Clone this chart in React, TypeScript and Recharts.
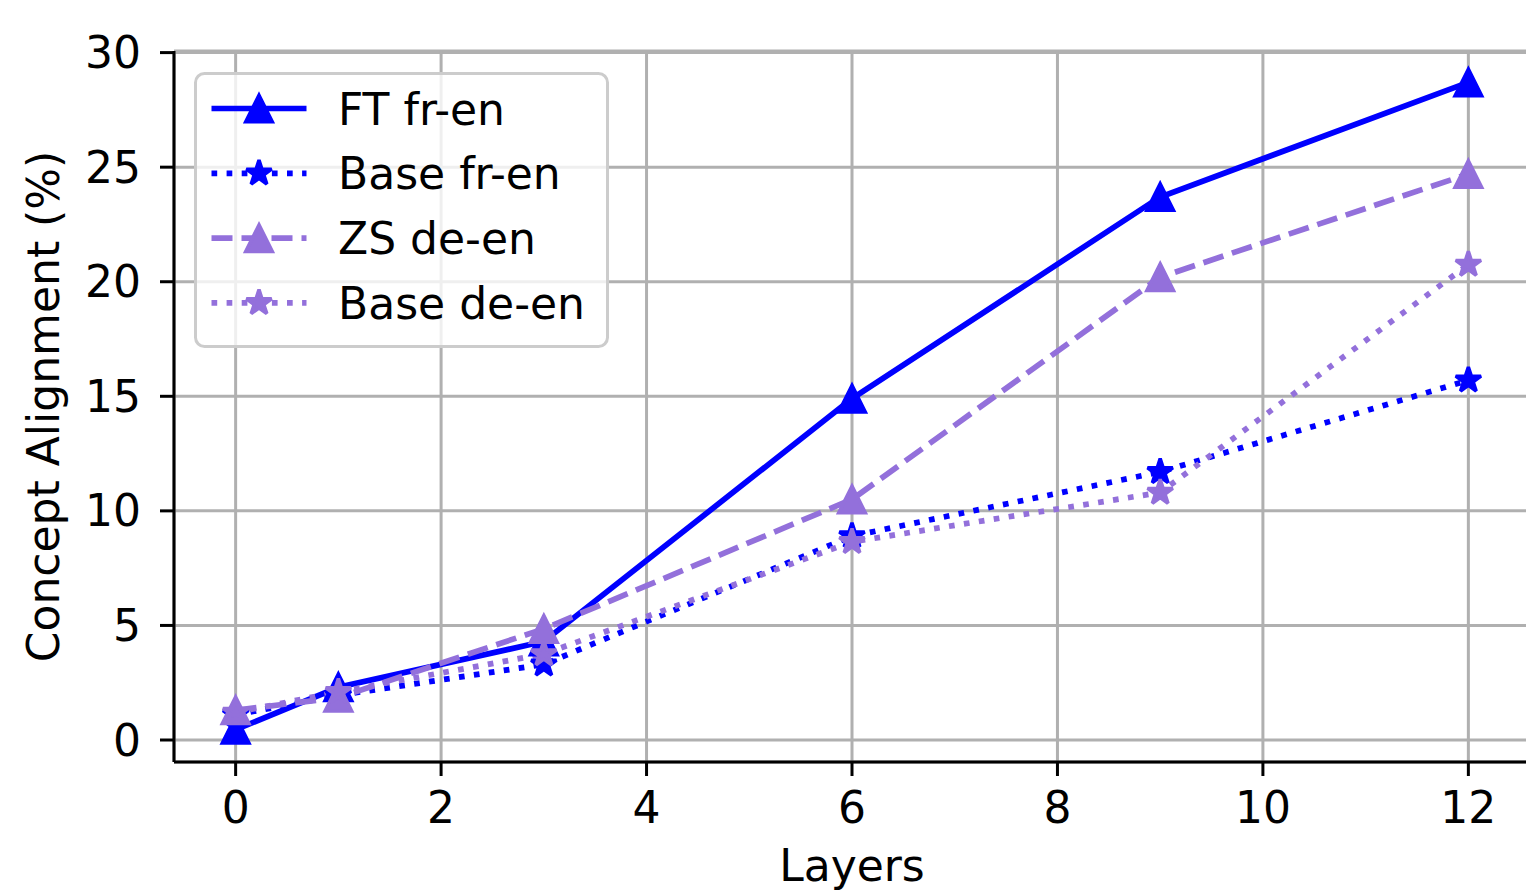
import { LineChart, Line, XAxis, YAxis, CartesianGrid, Legend } from 'recharts';

// values
const LAYERS = [0, 1, 3, 6, 9, 12];
const FT_FR_EN = [0.45, 2.3, 4.3, 14.9, 23.7, 28.7];
const BASE_FR_EN = [1.1, 1.95, 3.3, 8.9, 11.7, 15.7];
const ZS_DE_EN = [1.3, 1.85, 4.85, 10.5, 20.2, 24.7];
const BASE_DE_EN = [1.2, 2.1, 3.75, 8.65, 10.8, 20.75];

const X_TICKS = [0, 2, 4, 6, 8, 10, 12];
const Y_TICKS = [0, 5, 10, 15, 20, 25, 30];
const X_DOMAIN: [number, number] = [-0.6, 12.6];
const Y_DOMAIN: [number, number] = [-0.96, 30.07];

const BLUE = '#0000ff';
const PURPLE = '#9370db';
const FONT = '"DejaVu Sans", Verdana, sans-serif';
const FONT_SIZE = 44;
const LINE_W = 5.7;
const DOTTED = '5.7 9.4';
const DASHED = '21 9';

type Shape = 'triangle' | 'star';

const SERIES: { key: string; name: string; color: string; dash?: string; shape: Shape }[] = [
  { key: 'ftFrEn', name: 'FT fr-en', color: BLUE, shape: 'triangle' },
  { key: 'baseFrEn', name: 'Base fr-en', color: BLUE, dash: DOTTED, shape: 'star' },
  { key: 'zsDeEn', name: 'ZS de-en', color: PURPLE, dash: DASHED, shape: 'triangle' },
  { key: 'baseDeEn', name: 'Base de-en', color: PURPLE, dash: DOTTED, shape: 'star' },
];

const data = LAYERS.map((layer, i) => ({
  layer,
  ftFrEn: FT_FR_EN[i],
  baseFrEn: BASE_FR_EN[i],
  zsDeEn: ZS_DE_EN[i],
  baseDeEn: BASE_DE_EN[i],
}));

function markerPath(shape: Shape, cx: number, cy: number) {
  const s = 13.3;
  if (shape === 'triangle') {
    return `M${cx},${cy - s}L${cx + s},${cy + s}L${cx - s},${cy + s}Z`;
  }
  // 5 point star like matplotlib's '*'
  const inner = s * 0.381966;
  let d = '';
  for (let k = 0; k < 10; k++) {
    const a = (-90 + k * 36) * (Math.PI / 180);
    const r = k % 2 === 0 ? s : inner;
    d += `${k === 0 ? 'M' : 'L'}${cx + r * Math.cos(a)},${cy + r * Math.sin(a)}`;
  }
  return d + 'Z';
}

function Marker({ shape, cx, cy, color }: { shape: Shape; cx?: number; cy?: number; color: string }) {
  if (cx == null || cy == null) return null;
  return (
    <path
      d={markerPath(shape, cx, cy)}
      fill={color}
      stroke={color}
      strokeWidth={3.5}
      strokeLinejoin={shape === 'triangle' ? 'miter' : 'bevel'}
    />
  );
}

function LegendBox() {
  return (
    <svg width={416} height={277} style={{ display: 'block', overflow: 'visible' }}>
      <rect x={1.5} y={1.5} width={412} height={273} rx={9} fill="rgba(255,255,255,0.8)" stroke="#cccccc" strokeWidth={3} />
      {SERIES.map((s, i) => {
        const y = 36.5 + i * 64.8;
        return (
          <g key={s.key}>
            <line x1={17.5} x2={112.5} y1={y} y2={y} stroke={s.color} strokeWidth={LINE_W} strokeDasharray={s.dash} />
            <Marker shape={s.shape} cx={65} cy={y} color={s.color} />
            <text x={144} y={y + 16} fontSize={FONT_SIZE} fontFamily={FONT} fill="#000">
              {s.name}
            </text>
          </g>
        );
      })}
    </svg>
  );
}

function XTitle(props: any) {
  const vb = props.viewBox;
  return (
    <text x={vb.x + vb.width / 2} y={vb.y + 119} textAnchor="middle" fontSize={FONT_SIZE} fontFamily={FONT} fill="#000">
      Layers
    </text>
  );
}

function YTitle(props: any) {
  const vb = props.viewBox;
  const x = 59;
  const y = vb.y + vb.height / 2;
  return (
    <text x={x} y={y} transform={`rotate(-90 ${x} ${y})`} textAnchor="middle" fontSize={FONT_SIZE} fontFamily={FONT} fill="#000">
      Concept Alignment (%)
    </text>
  );
}

const tickStyle = { fontSize: FONT_SIZE, fill: '#000', fontFamily: FONT };

export default function App() {
  return (
    <div style={{ position: 'absolute', left: 0, top: 0, width: 1526, height: 891, overflow: 'hidden', background: '#fff' }}>
      <LineChart width={1540} height={891} data={data} margin={{ top: 51, right: 10, left: 0, bottom: 29 }}>
        <CartesianGrid stroke="#b0b0b0" strokeWidth={3} />
        <XAxis
          dataKey="layer"
          type="number"
          domain={X_DOMAIN}
          ticks={X_TICKS}
          allowDataOverflow
          height={100}
          tick={tickStyle}
          tickSize={14}
          tickMargin={16}
          stroke="#000"
          tickLine={{ stroke: '#000', strokeWidth: 3 }}
          axisLine={{ stroke: '#000', strokeWidth: 3 }}
          label={<XTitle />}
        />
        <XAxis
          xAxisId="top"
          orientation="top"
          type="number"
          domain={X_DOMAIN}
          ticks={[]}
          tick={false}
          tickLine={false}
          height={0}
          axisLine={{ stroke: '#000', strokeWidth: 3 }}
        />
        <YAxis
          type="number"
          domain={Y_DOMAIN}
          ticks={Y_TICKS}
          allowDataOverflow
          width={174}
          tick={tickStyle}
          tickSize={14}
          tickMargin={19}
          stroke="#000"
          tickLine={{ stroke: '#000', strokeWidth: 3 }}
          axisLine={{ stroke: '#000', strokeWidth: 3 }}
          label={<YTitle />}
        />
        {SERIES.map((s) => (
          <Line
            key={s.key}
            dataKey={s.key}
            name={s.name}
            type="linear"
            stroke={s.color}
            strokeWidth={LINE_W}
            strokeDasharray={s.dash}
            isAnimationActive={false}
            dot={(p: any) => <Marker key={`${s.key}-${p.index}`} shape={s.shape} cx={p.cx} cy={p.cy} color={s.color} />}
            activeDot={false}
          />
        ))}
        <Legend
          layout="horizontal"
          verticalAlign="middle"
          align="center"
          content={<LegendBox />}
          wrapperStyle={{ left: 193.5, top: 71.5, width: 416, height: 277 }}
        />
      </LineChart>
    </div>
  );
}
